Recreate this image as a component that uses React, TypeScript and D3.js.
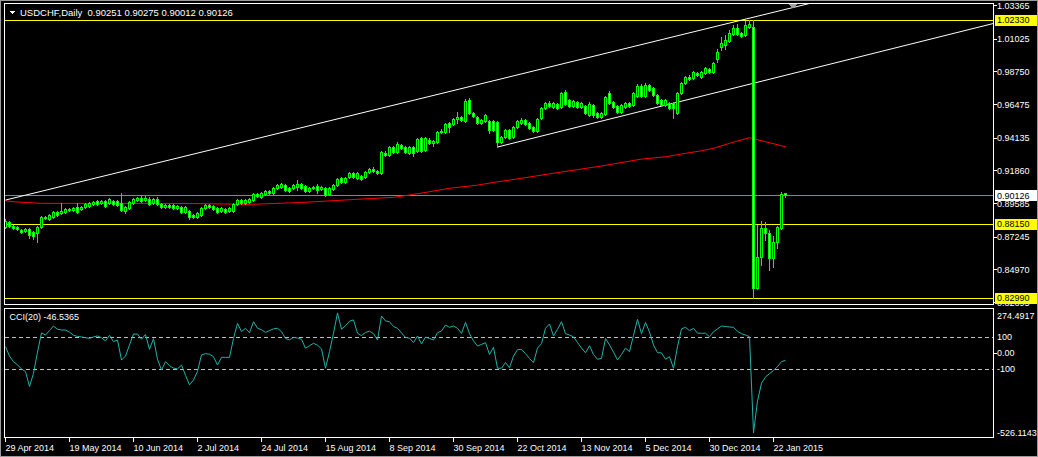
import React from 'react';
import * as d3 from 'd3';

// ---- DATA ----
const OPEN = [0.8791,0.8826,0.8798,0.8791,0.8770,0.8763,0.8777,0.8756,0.8749,0.8791,
0.8854,0.8847,0.8861,0.8895,0.8889,0.8895,0.8909,0.8909,0.8930,0.8916,
0.8930,0.8937,0.8951,0.8972,0.8958,0.8972,0.8958,0.8972,0.8972,0.8958,
0.8902,0.8923,0.8958,0.8979,0.8993,0.8979,0.8986,0.8958,0.8986,0.8951,
0.8930,0.8944,0.8944,0.8923,0.8930,0.8895,0.8902,0.8875,0.8861,0.8875,
0.8923,0.8944,0.8937,0.8923,0.8902,0.8916,0.8902,0.8902,0.8951,0.8979,
0.8958,0.8965,0.8979,0.9021,0.9000,0.9021,0.9042,0.9028,0.9062,0.9069,
0.9083,0.9062,0.9062,0.9069,0.9090,0.9076,0.9042,0.9062,0.9076,0.9056,
0.9062,0.9021,0.9056,0.9083,0.9132,0.9104,0.9139,0.9167,0.9132,0.9146,
0.9139,0.9174,0.9195,0.9181,0.9167,0.9306,0.9292,0.9348,0.9313,0.9362,
0.9348,0.9306,0.9348,0.9320,0.9411,0.9327,0.9397,0.9376,0.9383,0.9452,
0.9452,0.9515,0.9508,0.9543,0.9557,0.9529,0.9675,0.9584,0.9557,0.9515,
0.9529,0.9529,0.9529,0.9522,0.9383,0.9418,0.9466,0.9418,0.9487,0.9515,
0.9536,0.9515,0.9487,0.9459,0.9550,0.9619,0.9654,0.9626,0.9647,0.9626,
0.9731,0.9675,0.9633,0.9661,0.9626,0.9633,0.9571,0.9640,0.9584,0.9557,
0.9577,0.9724,0.9661,0.9633,0.9591,0.9626,0.9654,0.9640,0.9703,0.9772,
0.9703,0.9779,0.9758,0.9710,0.9675,0.9640,0.9654,0.9654,0.9584,0.9724,
0.9793,0.9835,0.9828,0.9863,0.9835,0.9863,0.9891,0.9870,0.9960,1.0044,
1.0058,1.0086,1.0134,1.0176,1.0141,1.0127,1.0183,1.0183,0.8367,0.8582,
0.8784,0.8749,0.8575,0.8687,0.8784,0.90251];

const HIGH = [0.8845,0.8835,0.8805,0.8798,0.8780,0.8784,0.8784,0.8763,0.8798,0.8868,
0.8870,0.8885,0.8902,0.8905,0.8958,0.8925,0.8925,0.8930,0.8958,0.8937,
0.8958,0.8965,0.8972,0.8979,0.8979,0.8979,0.8993,0.8979,0.8979,0.9028,
0.8937,0.8972,0.8993,0.9000,0.9007,0.9007,0.9000,0.8993,0.9000,0.8958,
0.8951,0.8951,0.8951,0.8944,0.8937,0.8937,0.8909,0.8882,0.8895,0.8930,
0.8951,0.8951,0.8944,0.8930,0.8930,0.8923,0.8930,0.8958,0.8986,0.8986,
0.8986,0.8993,0.9028,0.9028,0.9035,0.9049,0.9049,0.9069,0.9090,0.9097,
0.9090,0.9069,0.9090,0.9118,0.9097,0.9083,0.9069,0.9076,0.9090,0.9076,
0.9069,0.9069,0.9090,0.9132,0.9139,0.9139,0.9174,0.9174,0.9174,0.9153,
0.9181,0.9202,0.9209,0.9188,0.9320,0.9320,0.9355,0.9355,0.9383,0.9369,
0.9355,0.9355,0.9355,0.9411,0.9418,0.9418,0.9411,0.9397,0.9459,0.9473,
0.9515,0.9522,0.9550,0.9591,0.9564,0.9682,0.9689,0.9591,0.9564,0.9543,
0.9578,0.9536,0.9536,0.9529,0.9425,0.9473,0.9473,0.9494,0.9536,0.9550,
0.9543,0.9522,0.9494,0.9550,0.9626,0.9661,0.9668,0.9661,0.9654,0.9731,
0.9745,0.9682,0.9675,0.9668,0.9661,0.9640,0.9661,0.9647,0.9591,0.9591,
0.9703,0.9738,0.9668,0.9640,0.9647,0.9661,0.9661,0.9731,0.9786,0.9786,
0.9793,0.9786,0.9765,0.9717,0.9682,0.9682,0.9661,0.9661,0.9731,0.9800,
0.9842,0.9849,0.9877,0.9870,0.9877,0.9905,0.9898,0.9940,1.0030,1.0113,
1.0127,1.0162,1.0197,1.0204,1.0148,1.0225,1.0233,1.0233,0.8805,0.8833,
0.8826,0.8770,0.8728,0.8798,0.9035,0.90275];

const LOW = [0.8784,0.8790,0.8775,0.8770,0.8750,0.8756,0.8715,0.8708,0.8687,0.8784,
0.8845,0.8840,0.8854,0.8868,0.8882,0.8889,0.8902,0.8902,0.8889,0.8909,
0.8923,0.8930,0.8944,0.8944,0.8951,0.8930,0.8951,0.8944,0.8937,0.8902,
0.8889,0.8916,0.8951,0.8972,0.8965,0.8972,0.8944,0.8951,0.8944,0.8923,
0.8923,0.8923,0.8916,0.8916,0.8889,0.8889,0.8847,0.8854,0.8854,0.8868,
0.8916,0.8923,0.8909,0.8889,0.8895,0.8889,0.8895,0.8895,0.8944,0.8951,
0.8951,0.8958,0.8972,0.9000,0.8993,0.9014,0.9021,0.9021,0.9056,0.9062,
0.9042,0.9035,0.9056,0.9049,0.9056,0.9035,0.9035,0.9056,0.9028,0.9049,
0.9007,0.9014,0.9049,0.9076,0.9097,0.9097,0.9132,0.9132,0.9125,0.9118,
0.9132,0.9167,0.9174,0.9160,0.9160,0.9285,0.9285,0.9306,0.9306,0.9334,
0.9306,0.9299,0.9285,0.9313,0.9313,0.9320,0.9369,0.9355,0.9376,0.9445,
0.9445,0.9452,0.9501,0.9515,0.9529,0.9522,0.9577,0.9557,0.9508,0.9508,
0.9522,0.9445,0.9459,0.9348,0.9376,0.9411,0.9404,0.9411,0.9480,0.9508,
0.9501,0.9473,0.9452,0.9452,0.9543,0.9612,0.9626,0.9619,0.9612,0.9619,
0.9640,0.9626,0.9626,0.9619,0.9619,0.9577,0.9564,0.9557,0.9550,0.9550,
0.9571,0.9647,0.9619,0.9584,0.9584,0.9619,0.9626,0.9633,0.9696,0.9696,
0.9696,0.9738,0.9703,0.9647,0.9633,0.9633,0.9612,0.9550,0.9577,0.9717,
0.9786,0.9814,0.9821,0.9842,0.9828,0.9856,0.9863,0.9863,0.9940,1.0023,
1.0030,1.0079,1.0127,1.0127,1.0113,1.0120,1.0176,0.8299,0.8360,0.8526,
0.8700,0.8492,0.8513,0.8645,0.8777,0.90012];

const CLOSE = [0.8833,0.8798,0.8784,0.8777,0.8756,0.8777,0.8735,0.8728,0.8791,0.8861,
0.8861,0.8875,0.8895,0.8875,0.8902,0.8916,0.8916,0.8923,0.8895,0.8930,
0.8951,0.8958,0.8965,0.8951,0.8972,0.8937,0.8986,0.8951,0.8944,0.8909,
0.8930,0.8965,0.8986,0.8993,0.8972,0.8993,0.8951,0.8986,0.8951,0.8930,
0.8944,0.8930,0.8923,0.8937,0.8895,0.8930,0.8861,0.8861,0.8889,0.8923,
0.8944,0.8930,0.8916,0.8895,0.8923,0.8895,0.8923,0.8951,0.8979,0.8958,
0.8979,0.8986,0.9021,0.9007,0.9028,0.9042,0.9028,0.9062,0.9083,0.9090,
0.9049,0.9042,0.9083,0.9090,0.9062,0.9042,0.9062,0.9069,0.9049,0.9069,
0.9014,0.9062,0.9083,0.9125,0.9104,0.9132,0.9167,0.9139,0.9167,0.9125,
0.9174,0.9195,0.9181,0.9167,0.9313,0.9292,0.9348,0.9313,0.9369,0.9341,
0.9313,0.9348,0.9306,0.9404,0.9320,0.9411,0.9376,0.9390,0.9452,0.9459,
0.9508,0.9487,0.9543,0.9557,0.9536,0.9668,0.9584,0.9564,0.9515,0.9536,
0.9571,0.9466,0.9466,0.9383,0.9418,0.9466,0.9411,0.9487,0.9529,0.9536,
0.9508,0.9480,0.9459,0.9543,0.9619,0.9654,0.9633,0.9654,0.9619,0.9724,
0.9647,0.9633,0.9668,0.9626,0.9654,0.9584,0.9647,0.9571,0.9557,0.9584,
0.9696,0.9654,0.9626,0.9591,0.9640,0.9654,0.9633,0.9724,0.9772,0.9703,
0.9779,0.9745,0.9710,0.9654,0.9640,0.9675,0.9619,0.9619,0.9724,0.9793,
0.9835,0.9821,0.9870,0.9849,0.9870,0.9898,0.9870,0.9933,1.0009,1.0072,
1.0093,1.0141,1.0176,1.0134,1.0120,1.0197,1.0204,0.8367,0.8582,0.8784,
0.8749,0.8575,0.8687,0.8791,0.9021,0.90126];

const CCI20 = [39,-20,-55,-75,-100,-117,-210,-128,5,125,
112,140,168,148,143,143,130,110,103,100,
95,91,100,106,95,75,110,70,81,-45,
-20,50,118,118,85,115,22,89,-40,-107,
-55,-80,-95,-100,-76,-140,-200,-170,-115,-13,
-5,-8,-24,-76,-28,-28,-28,90,185,133,
154,126,195,154,145,128,140,150,154,133,
90,81,97,93,85,29,45,60,48,25,
-96,8,123,250,148,170,198,206,123,108,
128,136,120,81,231,200,195,165,154,125,
97,92,64,106,56,99,90,81,126,137,
174,160,168,154,122,191,120,75,43,53,
64,-10,35,-96,-96,-60,-93,-20,20,22,
-5,-35,-61,30,58,154,181,106,148,195,
120,112,100,65,30,1,45,-10,-40,-34,
90,50,5,-44,-10,30,8,110,210,120,
190,130,50,1,0,-40,-24,-96,39,150,
160,139,154,123,123,123,101,133,150,168,
165,162,160,135,120,112,101,-500,-300,-190,
-150,-130,-110,-86,-55,-46.5365];

// moving average line, sampled along the red line: [bar index, price]
const MA_SAMPLES: [number, number][] = [
  [0,0.8974],[2,0.8967],[9,0.8956],[46,0.8955],[61,0.8949],[74,0.8962],[89,0.8986],
  [97,0.8998],[101,0.9014],[106,0.9037],[111,0.9061],[118,0.9083],[123,0.9106],[126,0.9118],
  [139,0.9174],[149,0.9216],[159,0.9264],[165,0.9280],[170,0.9304],[174,0.9322],[177,0.9339],
  [181,0.9374],[186,0.9413],[190,0.9385],[195,0.9350]];

// user-drawn trend lines (rays): anchor bar index + price
const TREND_BAR1 = [0, 123];
const TREND_PRICE1 = [0.8979, 0.9348];
const TREND_BAR2 = [170, 170];
const TREND_PRICE2 = [1.0136, 0.9674];

const PRICE_TICKS = [1.03365, 1.01025, 0.98750, 0.96475, 0.94135, 0.91860, 0.89585, 0.87245, 0.84970, 0.82695];
const LEVELS = [1.02330, 0.88150, 0.82990];
const BID = 0.90126;
const CCI_LEVELS = [100, -100];
const CCI_TICKS = [274.4917, 100, 0, -100, -526.1143];
const CCI_TICK_LABELS = ['274.4917', '100', '0.00', '-100', '-526.1143'];
const DATE_LABELS = ['29 Apr 2014','19 May 2014','10 Jun 2014','2 Jul 2014','24 Jul 2014','15 Aug 2014',
  '8 Sep 2014','30 Sep 2014','22 Oct 2014','13 Nov 2014','5 Dec 2014','30 Dec 2014','22 Jan 2015'];
const DATE_INDEX = [0,16,32,48,64,80,96,112,128,144,160,176,192];

const TITLE = 'USDCHF,Daily  0.90251 0.90275 0.90012 0.90126';
const CCI_TITLE = 'CCI(20) -46.5365';

// ---- LAYOUT ----
const W = 1038, H = 457;
const PL = 4.5, PR = 993.5, PT = 3.5, PB = 304.5, CT = 308.5, CB = 437.5;
const FONT = "'Liberation Sans', Arial, sans-serif";
const LIME = '#00ff00';

export default function App() {
  const n = CLOSE.length;
  const xs = d3.scaleLinear().domain([0, n - 1]).range([5.5, 5.5 + 4 * (n - 1)]);
  const yP = d3.scaleLinear().domain([0.82695, 1.03365]).range([302, 5]);
  const yC = d3.scaleLinear().domain([-526.1143, 274.4917]).range([437, 309]);
  const r = (v: number) => Math.round(v) + 0.5;

  const maLine = d3.line<[number, number]>().x(d => xs(d[0])).y(d => yP(d[1]))(MA_SAMPLES) || '';
  const cciLine = d3.line<number>().x((_, i) => xs(i)).y(d => yC(d))(CCI20) || '';

  const trend = TREND_BAR1.map((b1, k) => {
    const slope = (TREND_PRICE2[k] - TREND_PRICE1[k]) / (TREND_BAR2[k] - b1);
    const bEnd = 300;
    return { x1: xs(b1), y1: yP(TREND_PRICE1[k]), x2: xs(bEnd), y2: yP(TREND_PRICE1[k] + slope * (bEnd - b1)) };
  });

  const candles = CLOSE.map((c, i) => {
    const o = OPEN[i];
    const cx = xs(i);
    const top = r(yP(Math.max(o, c)));
    const bot = r(yP(Math.min(o, c)));
    const bull = c >= o;
    return (
      <g key={i}>
        <line x1={cx} x2={cx} y1={Math.round(yP(HIGH[i]))} y2={Math.round(yP(LOW[i])) + 1} stroke={LIME} strokeWidth={1} />
        {bot - top >= 1 ? (
          <rect x={cx - 1} y={top} width={2} height={bot - top} fill={bull ? '#000' : '#fff'} stroke={LIME} strokeWidth={1} />
        ) : (
          <line x1={cx - 1.5} x2={cx + 1.5} y1={top} y2={top} stroke={LIME} strokeWidth={1} />
        )}
      </g>
    );
  });

  const textStyle = { fontFamily: FONT, fontSize: 9 } as React.CSSProperties;

  return (
    <svg width={W} height={H} style={{ position: 'absolute', left: 0, top: 0, background: '#000' }} shapeRendering="crispEdges">
      <defs>
        <clipPath id="mainClip"><rect x={5} y={4} width={988} height={300} /></clipPath>
        <clipPath id="cciClip"><rect x={5} y={309} width={988} height={128} /></clipPath>
      </defs>
      <rect x={0} y={0} width={W} height={H} fill="#000" />
      {/* window border */}
      <rect x={0.5} y={0.5} width={W - 1} height={H - 1} fill="none" stroke="#9a9a9a" />

      {/* main pane */}
      <g clipPath="url(#mainClip)">
        {LEVELS.map((p, k) => (
          <line key={k} x1={PL} x2={PR} y1={r(yP(p))} y2={r(yP(p))} stroke="#ffff00" />
        ))}
        <line x1={PL} x2={PR} y1={r(yP(BID))} y2={r(yP(BID))} stroke="#778899" />
        <path d={maLine} fill="none" stroke="#ff0000" strokeWidth={1} shapeRendering="auto" />
        {trend.map((t, k) => (
          <line key={k} x1={t.x1} y1={t.y1} x2={t.x2} y2={t.y2} stroke="#fff" strokeWidth={1} shapeRendering="auto" />
        ))}
        {candles}
      </g>

      {/* cci pane */}
      <g clipPath="url(#cciClip)">
        {CCI_LEVELS.map((v, k) => (
          <line key={k} x1={PL} x2={PR} y1={r(yC(v))} y2={r(yC(v))} stroke="#c0c0c0" strokeDasharray="4,3" />
        ))}
        <path d={cciLine} fill="none" stroke="#20b2aa" strokeWidth={1} shapeRendering="auto" />
      </g>

      {/* frames */}
      <rect x={PL} y={PT} width={PR - PL} height={PB - PT} fill="none" stroke="#fff" />
      <rect x={PL} y={CT} width={PR - PL} height={CB - CT} fill="none" stroke="#fff" />

      {/* chart shift marker */}
      <path d="M789,4 L797,4 L793,9 Z" fill="#a0a0a0" />

      {/* title */}
      <path d="M10,11 L15,11 L12.5,14 Z" fill="#fff" />
      <text x={20} y={16} fill="#fff" style={{ fontFamily: FONT, fontSize: 9.5, whiteSpace: 'pre' }}>{TITLE}</text>
      <text x={9.5} y={320} fill="#fff" style={textStyle}>{CCI_TITLE}</text>

      {/* price axis */}
      {PRICE_TICKS.map((p, k) => (
        <g key={k}>
          <line x1={994} x2={997} y1={r(yP(p))} y2={r(yP(p))} stroke="#fff" />
          <text x={997} y={yP(p) + 3.5} fill="#fff" style={textStyle}>{p.toFixed(5)}</text>
        </g>
      ))}
      {LEVELS.map((p, k) => (
        <g key={k}>
          <rect x={995} y={Math.round(yP(p)) - 5} width={42} height={11} fill="#ffff00" />
          <text x={997} y={yP(p) + 3.5} fill="#000" style={textStyle}>{p.toFixed(5)}</text>
        </g>
      ))}
      <rect x={995} y={Math.round(yP(BID)) - 5} width={42} height={11} fill="#fff" />
      <text x={997} y={yP(BID) + 3.5} fill="#000" style={textStyle}>{BID.toFixed(5)}</text>

      {/* cci axis */}
      {CCI_TICKS.map((v, k) => {
        const yy = Math.min(Math.max(yC(v), 315.5), 432);
        return (
          <g key={k}>
            {v === 0 && <line x1={994} x2={997} y1={r(yC(v))} y2={r(yC(v))} stroke="#fff" />}
            <text x={997} y={yy + 3.5} fill="#fff" style={textStyle}>{CCI_TICK_LABELS[k]}</text>
          </g>
        );
      })}

      {/* time axis */}
      {DATE_INDEX.map((b, k) => (
        <g key={k}>
          <line x1={xs(b) - 0.5} x2={xs(b) - 0.5} y1={437} y2={442} stroke="#fff" />
          <text x={xs(b)} y={451} fill="#fff" style={textStyle}>{DATE_LABELS[k]}</text>
        </g>
      ))}
    </svg>
  );
}
